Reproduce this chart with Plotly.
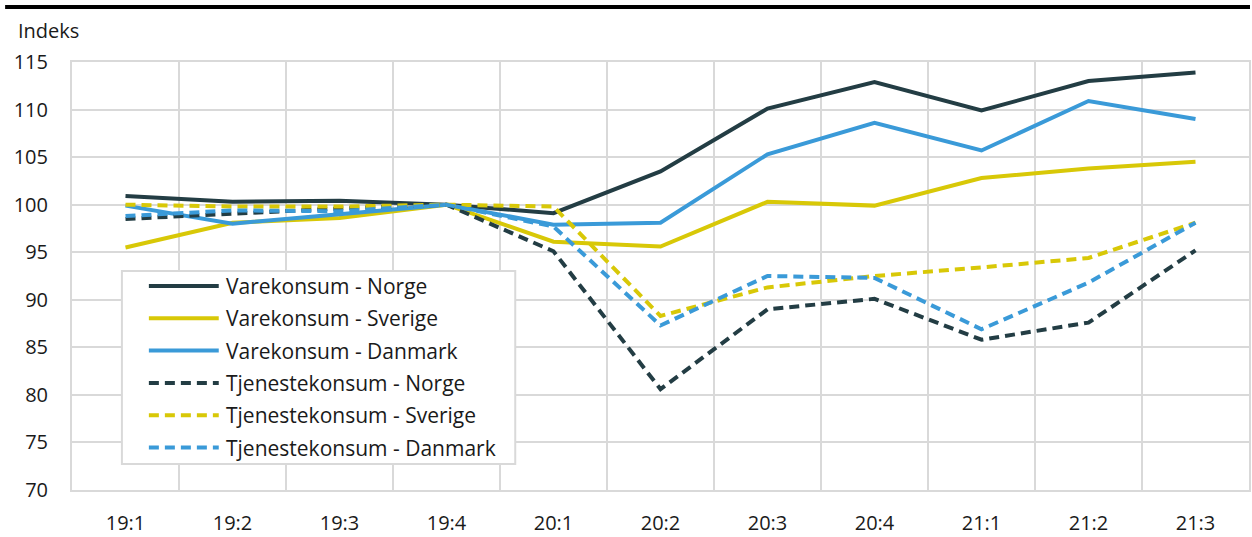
import plotly.graph_objects as go

# Quarterly consumption index, 2019:4 = 100
quarters = ["19:1", "19:2", "19:3", "19:4", "20:1", "20:2", "20:3", "20:4", "21:1", "21:2", "21:3"]

vare_norge = [100.9, 100.3, 100.4, 100.0, 99.1, 103.5, 110.1, 112.9, 109.9, 113.0, 113.9]
vare_sverige = [95.5, 98.1, 98.6, 100.0, 96.1, 95.6, 100.3, 99.9, 102.8, 103.8, 104.5]
vare_danmark = [99.9, 98.0, 99.0, 100.0, 97.9, 98.1, 105.3, 108.6, 105.7, 110.9, 109.0]
tjeneste_norge = [98.5, 99.1, 99.6, 100.0, 95.1, 80.6, 89.0, 90.1, 85.8, 87.6, 95.2]
tjeneste_sverige = [100.0, 99.8, 99.8, 100.0, 99.8, 88.3, 91.3, 92.5, 93.4, 94.4, 98.1]
tjeneste_danmark = [98.8, 99.4, 99.3, 100.0, 97.7, 87.3, 92.5, 92.3, 86.9, 91.8, 98.1]

series_names = [
    "Varekonsum - Norge",
    "Varekonsum - Sverige",
    "Varekonsum - Danmark",
    "Tjenestekonsum - Norge",
    "Tjenestekonsum - Sverige",
    "Tjenestekonsum - Danmark",
]
series_values = [vare_norge, vare_sverige, vare_danmark,
                 tjeneste_norge, tjeneste_sverige, tjeneste_danmark]

DARK = "#233d44"
YELLOW = "#d8c807"
BLUE = "#3a9ad8"
GRID = "#d9d9d9"
TEXT = "#1a1a1a"
FONT = "Open Sans"

series_colors = [DARK, YELLOW, BLUE, DARK, YELLOW, BLUE]
DASH = "10px,6px"
series_dash = ["solid", "solid", "solid", DASH, DASH, DASH]

W, H = 1252, 537
M_L, M_R, M_T, M_B = 72, 1, 62, 47
PW, PH = W - M_L - M_R, H - M_T - M_B


def px_x(px):
    return (px - M_L) / PW


def px_y(py):
    return (H - M_B - py) / PH


fig = go.Figure()
for name, vals, col, dash in zip(series_names, series_values, series_colors, series_dash):
    fig.add_trace(go.Scatter(
        x=quarters, y=vals, mode="lines", name=name,
        line=dict(color=col, width=4, dash=dash),
        showlegend=False,
    ))

shapes = [
    # heavy rule across the top of the figure
    dict(type="line", xref="paper", yref="paper",
         x0=px_x(5), x1=px_x(1252), y0=px_y(7), y1=px_y(7),
         line=dict(color="#000000", width=4)),
    # legend frame
    dict(type="rect", xref="paper", yref="paper",
         x0=px_x(122), x1=px_x(516), y0=px_y(271), y1=px_y(464),
         line=dict(color=GRID, width=2), fillcolor="white", layer="above"),
]
annotations = [
    dict(text="Indeks", xref="paper", yref="paper",
         x=px_x(16), y=px_y(31), xanchor="left", yanchor="middle",
         showarrow=False, font=dict(family=FONT, size=20, color=TEXT)),
]

# legend rows: line sample + label
row0, row_step = 286, 32.3
for i, (name, col, dash) in enumerate(zip(series_names, series_colors, series_dash)):
    ry = row0 + i * row_step
    shapes.append(dict(type="line", xref="paper", yref="paper",
                       x0=px_x(149), x1=px_x(219), y0=px_y(ry), y1=px_y(ry),
                       line=dict(color=col, width=4, dash=dash), layer="above"))
    annotations.append(dict(text=name, xref="paper", yref="paper",
                            x=px_x(224), y=px_y(ry), xanchor="left", yanchor="middle",
                            showarrow=False, font=dict(family=FONT, size=21, color=TEXT)))

fig.update_layout(
    width=W, height=H, autosize=False,
    margin=dict(l=M_L, r=M_R, t=M_T, b=M_B, pad=0),
    paper_bgcolor="white", plot_bgcolor="white",
    font=dict(family=FONT, size=20, color=TEXT),
    shapes=shapes, annotations=annotations,
    xaxis=dict(
        type="category", tickson="boundaries", ticks="", showgrid=True,
        range=[-0.5, len(quarters) - 0.5],
        gridcolor=GRID, gridwidth=2, showline=True, mirror=True,
        linecolor=GRID, linewidth=2, ticklabelstandoff=14,
        tickfont=dict(family=FONT, size=20, color=TEXT), zeroline=False,
    ),
    yaxis=dict(
        range=[70, 115], dtick=5, tick0=70, ticks="", showgrid=True,
        gridcolor=GRID, gridwidth=2, showline=True, mirror=True,
        linecolor=GRID, linewidth=2, zeroline=False, ticklabelstandoff=18,
        tickfont=dict(family=FONT, size=20, color=TEXT),
    ),
)

fig.write_html("out.html")
